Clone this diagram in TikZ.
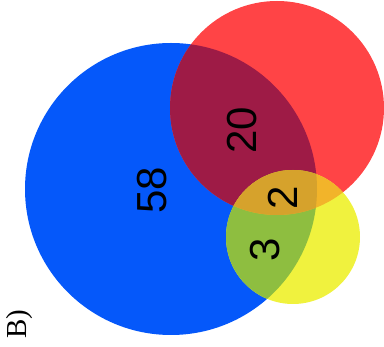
\documentclass[tikz,border=0pt]{standalone}
\usepackage{fontspec}
\setmainfont{Liberation Serif}
\newfontfamily\numfont{Liberation Sans}
\usetikzlibrary{positioning}
\definecolor{SetBlue}{RGB}{5,88,250}
\definecolor{SetRed}{RGB}{255,68,70}
\definecolor{SetYellow}{RGB}{240,242,62}
\definecolor{BlueRed}{RGB}{158,27,70}
\definecolor{BlueYellow}{RGB}{142,190,64}
\definecolor{RedYellow}{RGB}{242,180,42}
\definecolor{AllThree}{RGB}{214,162,44}

\begin{document}
\begin{tikzpicture}[x=1pt,y=-1pt,
  count/.style={rotate=90,font=\numfont\fontsize{42}{42}\selectfont}]
  \useasboundingbox (0,0) rectangle (384,347);
  \coordinate (cb) at (171,189);
  \coordinate (cr) at (277,108);
  \coordinate (cy) at (293,237);
  \def\rb{146pt}\def\rr{107pt}\def\ry{67pt}
  % three sets
  \fill[SetBlue] (cb) circle[radius=\rb];
  \fill[SetRed] (cr) circle[radius=\rr];
  \fill[SetYellow] (cy) circle[radius=\ry];
  % overlaps
  \begin{scope}
    \clip (cb) circle[radius=\rb];
    \fill[BlueRed] (cr) circle[radius=\rr];
    \fill[BlueYellow] (cy) circle[radius=\ry];
  \end{scope}
  \begin{scope}
    \clip (cr) circle[radius=\rr];
    \fill[RedYellow] (cy) circle[radius=\ry];
    \clip (cb) circle[radius=\rb];
    \fill[AllThree] (cy) circle[radius=\ry];
  \end{scope}
  % counts
  \node[count] (n58) at (152,190) {58};
  \node[count] (n20) at (242,130) {20};
  \node[count] (n2) at (283,198) {2};
  \node[count] (n3) at (265,250) {3};
  \node[rotate=90,font=\fontsize{29}{29}\selectfont] (lab) at (20,324) {B)};
\end{tikzpicture}
\end{document}
